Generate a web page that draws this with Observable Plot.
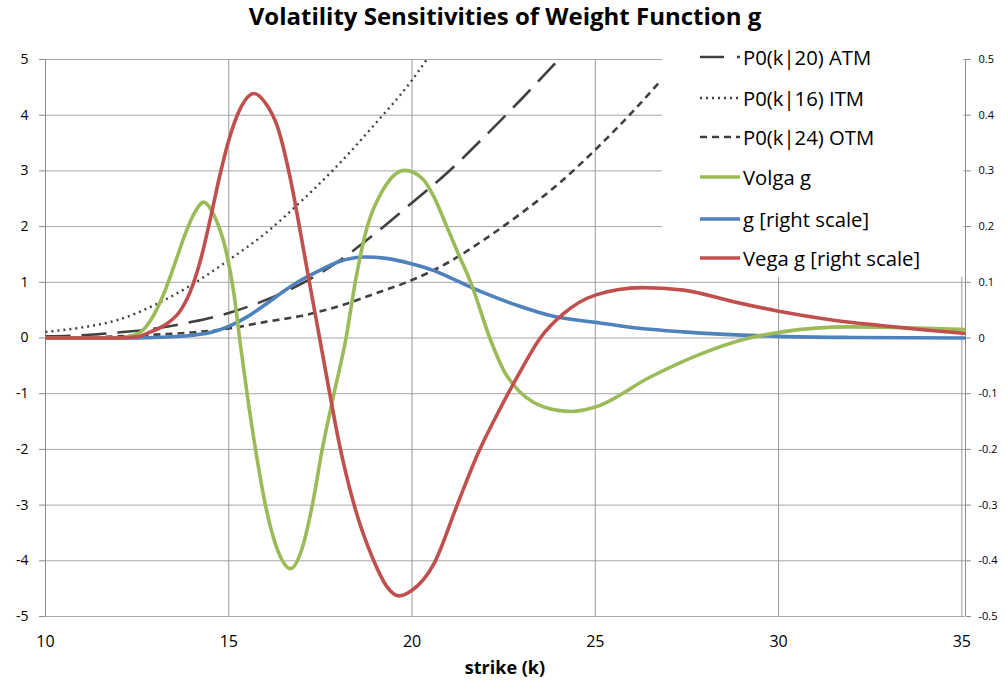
<!DOCTYPE html>
<html>
<head>
<meta charset="utf-8">
<script src="https://cdn.jsdelivr.net/npm/d3@7"></script>
<script src="https://cdn.jsdelivr.net/npm/@observablehq/plot@0.6"></script>
<style>
  html, body { margin: 0; padding: 0; background: #fff; }
  body { font-family: "Open Sans", Lato, sans-serif; color: #000; }
  #wrap { position: relative; width: 1005px; height: 684px; overflow: hidden; }
  #chart { position: absolute; left: 0; top: 0; }
  #title { position: absolute; left: 0; top: 4px; width: 1010px; text-align: center;
           font-weight: bold; font-size: 24px; line-height: 24px; white-space: nowrap; }
  #xlabel { position: absolute; left: 0; top: 658px; width: 1010px; text-align: center;
            font-weight: bold; font-size: 18px; line-height: 18px; }
  #legend { position: absolute; left: 662px; top: 44px; width: 301px; height: 233px; background: #fff; }
  .item { position: absolute; left: 38px; height: 24px; display: flex; align-items: center;
          font-size: 20.3px; white-space: nowrap; }
  .item svg { margin-right: 3px; flex: none; }
</style>
</head>
<body>
<div id="wrap">
  <div id="chart"></div>
  <div id="title"></div>
  <div id="legend"></div>
  <div id="xlabel"></div>
</div>
<script>
// ---- text ----
const titleText = "Volatility Sensitivities of Weight Function g";
const xLabelText = "strike (k)";

// ---- ticks ----
const xTicks = [10, 15, 20, 25, 30, 35];
const xGrid = [15, 20, 25, 30, 35];
const leftTicks = [-5, -4, -3, -2, -1, 0, 1, 2, 3, 4, 5];
const rightTickLabels = ["-0.5", "-0.4", "-0.3", "-0.2", "-0.1", "0", "0.1", "0.2", "0.3", "0.4", "0.5"];
const xDomain = [10, 35.1];
const yDomain = [-5, 5];

// ---- series (left scale) ----
const atmStrike = [10, 11, 12, 13, 14, 15, 16, 17, 18, 19, 20, 21, 22, 23, 24];
const atmValue  = [0.03, 0.05, 0.10, 0.17, 0.29, 0.45, 0.68, 0.98, 1.38, 1.88, 2.43, 2.99, 3.63, 4.30, 5.00];

const itmStrike = [10, 11, 12, 13, 14, 15, 16, 17, 18, 19, 20, 20.4];
const itmValue  = [0.11, 0.19, 0.33, 0.60, 0.96, 1.40, 1.88, 2.47, 3.12, 3.85, 4.63, 5.00];

const otmStrike = [10, 11, 12, 13, 14, 15, 16, 17, 18, 19, 20, 21, 22, 23, 24, 25, 26, 26.8];
const otmValue  = [0.00, 0.01, 0.03, 0.06, 0.10, 0.17, 0.29, 0.40, 0.57, 0.80, 1.04, 1.36, 1.78, 2.25, 2.77, 3.38, 4.05, 4.63];

const volgaStrike = [10, 11, 12, 12.3, 12.6, 12.87, 13.23, 13.5, 13.78, 14.05, 14.32, 14.6, 14.92, 15.14, 15.32,
  15.5, 15.73, 16.0, 16.3, 16.69, 17.0, 17.28, 17.55, 17.87, 18.2, 18.45, 18.78, 19.2, 19.8, 20.3, 20.6, 20.95,
  21.27, 21.6, 22.15, 22.5, 22.9, 23.3, 23.6, 24.35, 25.0, 26.5, 27.9, 29.2, 30.1, 31.9, 33.8, 35.1];
const volgaValue = [0, 0, 0, 0.03, 0.11, 0.32, 0.80, 1.28, 1.81, 2.23, 2.44, 2.20, 1.58, 0.80, -0.13,
  -1.0, -2.0, -3.0, -3.75, -4.14, -3.78, -3.0, -2.0, -1.0, 0.0, 1.0, 2.0, 2.65, 3.01, 2.85, 2.53, 2.0,
  1.5, 1.0, -0.05, -0.58, -0.94, -1.15, -1.24, -1.32, -1.24, -0.70, -0.28, 0.0, 0.11, 0.20, 0.18, 0.15];

// ---- series (right scale) ----
const gStrike = [10, 12, 13, 14, 14.5, 15, 15.5, 16, 16.5, 17, 17.5, 18, 18.7, 19.3, 20, 20.6, 21.05,
  22.0, 22.9, 23.8, 25, 26, 27.4, 30, 32, 35.1];
const gValue = [0, 0, 0.001, 0.005, 0.010, 0.021, 0.038, 0.060, 0.084, 0.105, 0.122, 0.137, 0.1455, 0.143,
  0.133, 0.121, 0.108, 0.080, 0.058, 0.040, 0.028, 0.019, 0.011, 0.003, 0.001, 0.0];

const vegaStrike = [10, 11, 12, 12.5, 12.87, 13.32, 13.69, 14.0, 14.25, 14.5, 14.75, 15.0, 15.3, 15.69, 16.0,
  16.33, 16.69, 16.96, 17.2, 17.45, 17.7, 18.0, 18.4, 18.95, 19.3, 19.64, 20.0, 20.6, 21.23, 21.78,
  22.41, 22.87, 23.5, 24.14, 25.0, 26.28, 27.41, 28.77, 30.0, 31.5, 32.86, 35.1];
const vegaValue = [0, 0, 0, 0.002, 0.011, 0.026, 0.050, 0.092, 0.145, 0.215, 0.290, 0.355, 0.410, 0.439, 0.422,
  0.379, 0.283, 0.188, 0.100, 0.010, -0.080, -0.185, -0.295, -0.399, -0.445, -0.463, -0.453, -0.405, -0.300, -0.210,
  -0.126, -0.070, 0.0, 0.044, 0.077, 0.0905, 0.086, 0.065, 0.048, 0.032, 0.022, 0.008];

// ---- styles ----
const darkLine = "#404040";
const green = "#9BBB59", blue = "#4F81BD", red = "#C0504D";
const rightFactor = 10; // right axis = left axis / 10

const rows = (ks, vs, f = 1) => ks.map((k, i) => ({k, v: vs[i] * f}));

const series = [
  {name: "P0(k|20) ATM", data: rows(atmStrike, atmValue), stroke: darkLine, width: 2.6, dash: "25,11"},
  {name: "P0(k|16) ITM", data: rows(itmStrike, itmValue), stroke: darkLine, width: 2.4, dash: "2,4"},
  {name: "P0(k|24) OTM", data: rows(otmStrike, otmValue), stroke: darkLine, width: 2.6, dash: "7,5"},
  {name: "Volga g", data: rows(volgaStrike, volgaValue), stroke: green, width: 3.6, dash: null},
  {name: "g [right scale]", data: rows(gStrike, gValue, rightFactor), stroke: blue, width: 3.6, dash: null},
  {name: "Vega g [right scale]", data: rows(vegaStrike, vegaValue, rightFactor), stroke: red, width: 3.6, dash: null}
];
// drawing order: dark lines, then blue, green, red on top
const drawOrder = [0, 1, 2, 4, 3, 5];

const chart = Plot.plot({
  width: 1005,
  height: 684,
  marginLeft: 45,
  marginRight: 40,
  marginTop: 59,
  marginBottom: 68,
  style: {fontFamily: "'Open Sans', Lato, sans-serif", color: "#000", background: "transparent", overflow: "visible"},
  x: {domain: xDomain},
  y: {domain: yDomain},
  marks: [
    Plot.ruleY(leftTicks, {stroke: "#a6a6a6", strokeWidth: 1}),
    Plot.ruleX(xGrid, {stroke: "#9a9a9a", strokeWidth: 1}),
    Plot.ruleX([xDomain[0], xDomain[1]], {stroke: "#8c8c8c", strokeWidth: 1}),
    Plot.axisY({ticks: leftTicks, anchor: "left", tickSize: 6, tickPadding: 11, fontSize: 14,
      stroke: "#8c8c8c", tickFormat: d => String(d), label: null}),
    Plot.axisY({ticks: leftTicks, anchor: "right", tickSize: 5, tickPadding: 8, fontSize: 11,
      stroke: "#8c8c8c", tickFormat: d => rightTickLabels[leftTicks.indexOf(d)], label: null}),
    Plot.axisX({ticks: xTicks, anchor: "bottom", tickSize: 0, tickPadding: 19, fontSize: 16,
      tickFormat: d => String(d), label: null}),
    ...drawOrder.map(i => {
      const s = series[i];
      return Plot.line(s.data, {x: "k", y: "v", curve: "monotone-x", stroke: s.stroke,
        strokeWidth: s.width, strokeDasharray: s.dash, strokeLinecap: "butt", strokeLinejoin: "round"});
    })
  ]
});
document.getElementById("chart").appendChild(chart);

document.getElementById("title").textContent = titleText;
document.getElementById("xlabel").textContent = xLabelText;

// legend
const legendCenters = [12.7, 54.3, 93.3, 133.3, 175, 214.3];
const legend = document.getElementById("legend");
series.forEach((s, i) => {
  const item = document.createElement("div");
  item.className = "item";
  item.style.top = (legendCenters[i] - 12) + "px";
  const ns = "http://www.w3.org/2000/svg";
  const sw = document.createElementNS(ns, "svg");
  sw.setAttribute("width", 40);
  sw.setAttribute("height", 8);
  const ln = document.createElementNS(ns, "line");
  ln.setAttribute("x1", 0); ln.setAttribute("x2", 40);
  ln.setAttribute("y1", 4); ln.setAttribute("y2", 4);
  ln.setAttribute("stroke", s.stroke);
  ln.setAttribute("stroke-width", s.width);
  if (s.dash) ln.setAttribute("stroke-dasharray", i === 0 ? "24,13" : s.dash);
  sw.appendChild(ln);
  item.appendChild(sw);
  const t = document.createElement("span");
  t.textContent = s.name;
  item.appendChild(t);
  legend.appendChild(item);
});
</script>
</body>
</html>
